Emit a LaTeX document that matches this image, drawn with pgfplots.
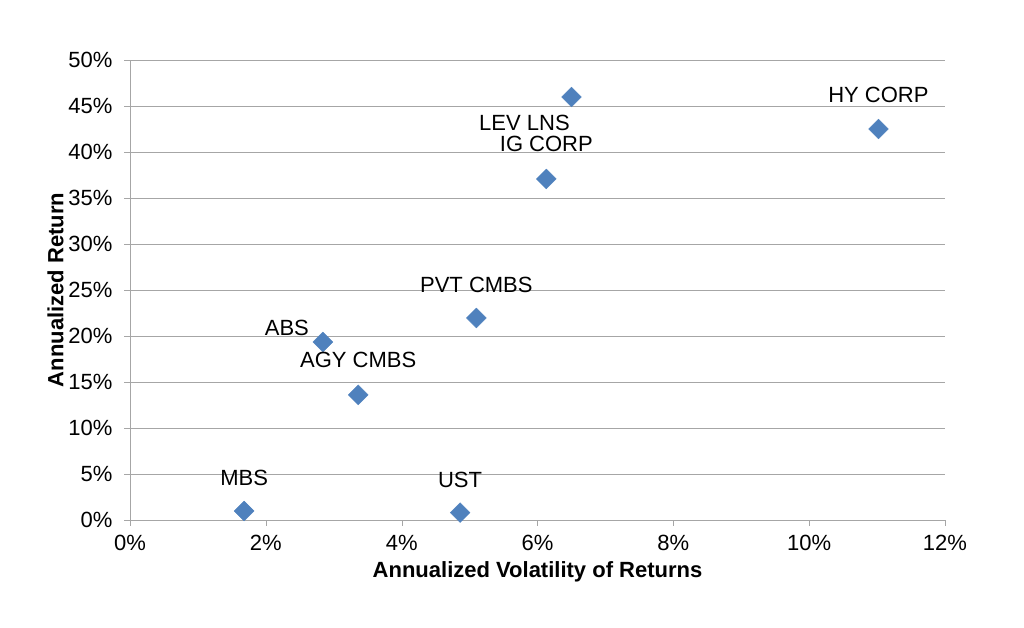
\documentclass[border=0pt]{standalone}
\usepackage{pgfplots}
\pgfplotsset{compat=1.18}
\usepackage{fontspec}
\setmainfont{Liberation Sans}
\definecolor{pt}{HTML}{4F81BD}
\begin{document}
\begin{tikzpicture}
\path[use as bounding box] (-130pt,-108pt) rectangle (894pt,520pt);
\begin{axis}[
  at={(0,0)}, anchor=south west, scale only axis,
  width=815pt, height=460pt,
  xmin=0, xmax=12, ymin=0, ymax=50,
  axis x line*=bottom, axis y line*=left,
  axis line style={gray!70}, tick style={gray!70, major tick length=6pt},
  tick align=outside,
  xtick={0,2,...,12}, xticklabels={0\%,2\%,4\%,6\%,8\%,10\%,12\%},
  ytick={0,5,...,50}, yticklabels={0\%,5\%,10\%,15\%,20\%,25\%,30\%,35\%,40\%,45\%,50\%},
  ymajorgrids, grid style={gray!70, line width=0.8pt},
  ticklabel style={font=\fontsize{22}{26}\selectfont},
  yticklabel style={xshift=-8pt},
  xticklabel style={yshift=-6pt},
  xlabel={\bfseries Annualized Volatility of Returns},
  ylabel={\bfseries Annualized Return},
  label style={font=\fontsize{22}{26}\selectfont},
  xlabel style={yshift=-4pt},
  ylabel style={yshift=-2pt},
  clip=false,
]
\addplot[only marks, mark=square*, mark size=7pt, mark options={rotate=45}, color=pt,
  point meta=explicit symbolic,
  visualization depends on={\thisrow{dx}\as\dx},
  visualization depends on={\thisrow{dy}\as\dy},
  nodes near coords,
  every node near coord/.append style={anchor=center, xshift=\dx pt, yshift=\dy pt, text=black, font=\fontsize{22}{26}\selectfont}]
table[col sep=comma, x=x, y=y, meta=label] {
x,y,label,dx,dy
1.68,0.98,MBS,0,33
4.86,0.8,UST,0,33
2.84,19.35,ABS,-36,14
3.36,13.6,AGY CMBS,0,35
5.1,21.96,PVT CMBS,0,33
6.13,37.07,IG CORP,0,35
6.5,45.98,LEV LNS,-47,-26
11.02,42.5,HY CORP,0,34
};
\end{axis}
\end{tikzpicture}
\end{document}
